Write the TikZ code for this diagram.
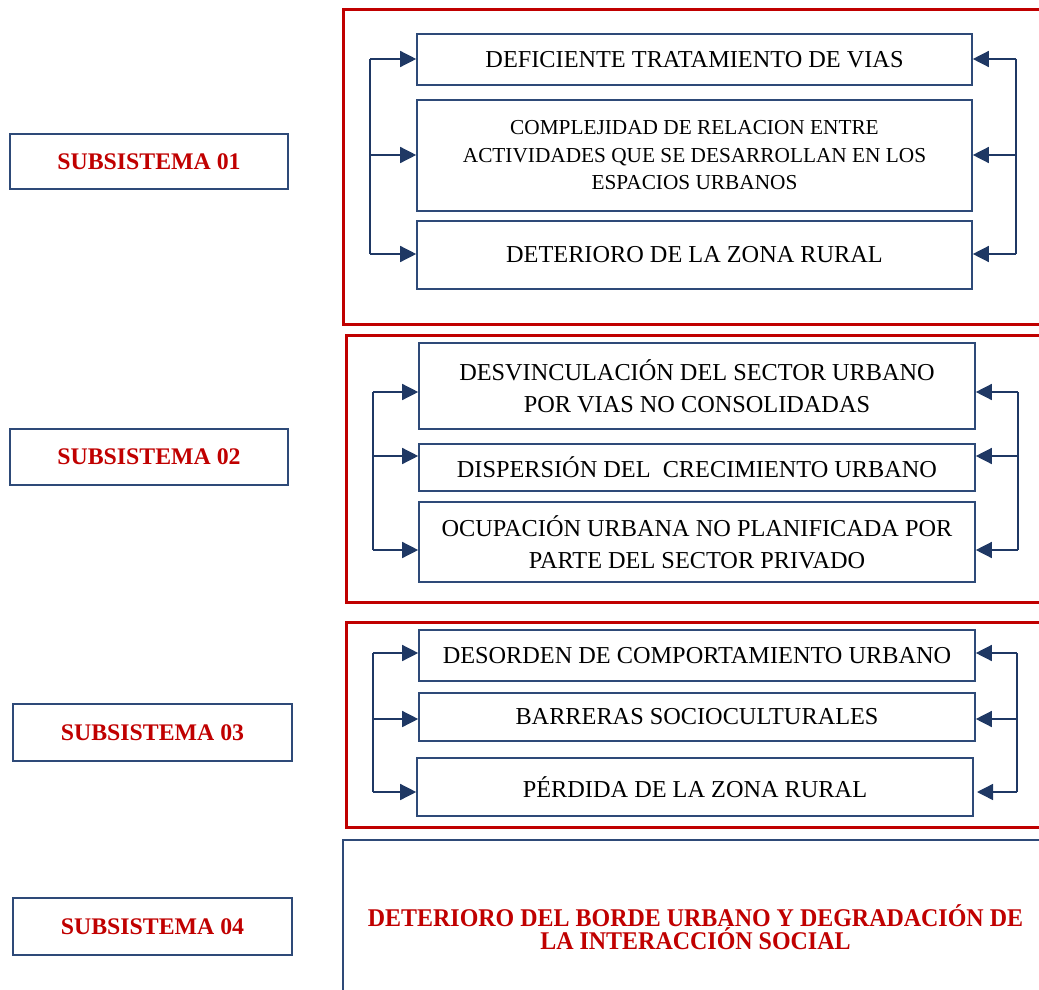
\documentclass[tikz,border=0pt]{standalone}
\usepackage{fontspec}
\setmainfont{Liberation Serif}
\newfontfamily\condfont[FakeStretch=0.94]{Liberation Serif Bold}
\usetikzlibrary{arrows.meta}
\definecolor{redf}{HTML}{C00000}
\definecolor{navy}{HTML}{2E4A78}
\definecolor{arrc}{HTML}{1F3864}
\begin{document}
\begin{tikzpicture}[x=1pt,y=-1pt,
  redframe/.style={draw=redf,line width=3pt},
  blueframe/.style={draw=navy,line width=2.4pt},
  itembox/.style={draw=navy,line width=1.6pt,inner sep=0pt,align=center,font=\fontsize{24.3}{32}\selectfont},
  smallbox/.style={itembox,font=\fontsize{21.3}{27.5}\selectfont},
  subbox/.style={draw=navy,line width=1.6pt,inner sep=0pt,text=redf,font=\fontsize{23.8}{26}\selectfont\bfseries},
  brk/.style={draw=arrc,line width=1.4pt},
  arr/.style={brk,-{Triangle[length=16pt,width=16pt]}}
]
\useasboundingbox (0,0) rectangle (1039,990);
\clip (0,0) rectangle (1039,990);

% frames
\draw[redframe] (343,10) rectangle (1060,324);
\draw[redframe] (346,335) rectangle (1060,602);
\draw[redframe] (346,622) rectangle (1060,827);
\draw[blueframe] (343,840) rectangle (1060,1010);

% subsystem boxes
\node[subbox,minimum width=278,minimum height=55] (s1) at (149,161.5) {SUBSISTEMA 01};
\node[subbox,minimum width=278,minimum height=56] (s2) at (149,457) {SUBSISTEMA 02};
\node[subbox,minimum width=279,minimum height=57] (s3) at (152.5,732.5) {SUBSISTEMA 03};
\node[subbox,minimum width=279,minimum height=57] (s4) at (152.5,926.5) {SUBSISTEMA 04};

% group 1
\node[itembox,minimum width=555,minimum height=51] (a1) at (694.5,59.5) {DEFICIENTE TRATAMIENTO DE VIAS};
\node[smallbox,minimum width=555,minimum height=111] (a2) at (694.5,155.5) {COMPLEJIDAD DE RELACION ENTRE\\ACTIVIDADES QUE SE DESARROLLAN EN LOS\\ESPACIOS URBANOS};
\node[itembox,minimum width=555,minimum height=68] (a3) at (694.5,255) {DETERIORO DE LA ZONA RURAL};

% group 2
\node[itembox,minimum width=556,minimum height=86] (b1) at (697,386) {DESVINCULACIÓN DEL SECTOR URBANO\\POR VIAS NO CONSOLIDADAS};
\node[itembox,minimum width=556,minimum height=47] (b2) at (697,467.5) {DISPERSIÓN DEL\ \ CRECIMIENTO URBANO};
\node[itembox,minimum width=556,minimum height=80] (b3) at (697,542) {OCUPACIÓN URBANA NO PLANIFICADA POR\\PARTE DEL SECTOR PRIVADO};

% group 3
\node[itembox,minimum width=556,minimum height=51] (c1) at (697,655.5) {DESORDEN DE COMPORTAMIENTO URBANO};
\node[itembox,minimum width=556,minimum height=48] (c2) at (697,717) {BARRERAS SOCIOCULTURALES};
\node[itembox,minimum width=556,minimum height=58] (c3) at (695,787) {PÉRDIDA DE LA ZONA RURAL};

% group 4 text
\node[text=redf,align=center,inner sep=0pt,font=\fontsize{25.5}{21.5}\condfont] (d) at (695.5,927) {DETERIORO DEL BORDE URBANO Y DEGRADACIÓN DE\\LA INTERACCIÓN SOCIAL};

% bracket coordinates group 1
\coordinate (la1) at (370,59);
\coordinate (la2) at (370,155);
\coordinate (la3) at (370,254);
\coordinate (ra1) at (1016,59);
\coordinate (ra2) at (1016,155);
\coordinate (ra3) at (1016,254);
\draw[brk] (la1) -- (la3);
\draw[brk] (ra1) -- (ra3);
\draw[arr] (la1) -- (la1 -| a1.west);
\draw[arr] (la2) -- (la2 -| a2.west);
\draw[arr] (la3) -- (la3 -| a3.west);
\draw[arr] (ra1) -- (ra1 -| a1.east);
\draw[arr] (ra2) -- (ra2 -| a2.east);
\draw[arr] (ra3) -- (ra3 -| a3.east);

% group 2
\coordinate (lb1) at (373,392);
\coordinate (lb2) at (373,456);
\coordinate (lb3) at (373,550);
\coordinate (rb1) at (1018,392);
\coordinate (rb2) at (1018,456);
\coordinate (rb3) at (1018,550);
\draw[brk] (lb1) -- (lb3);
\draw[brk] (rb1) -- (rb3);
\draw[arr] (lb1) -- (lb1 -| b1.west);
\draw[arr] (lb2) -- (lb2 -| b2.west);
\draw[arr] (lb3) -- (lb3 -| b3.west);
\draw[arr] (rb1) -- (rb1 -| b1.east);
\draw[arr] (rb2) -- (rb2 -| b2.east);
\draw[arr] (rb3) -- (rb3 -| b3.east);

% group 3
\coordinate (lc1) at (373,653);
\coordinate (lc2) at (373,719);
\coordinate (lc3) at (373,792);
\coordinate (rc1) at (1017,653);
\coordinate (rc2) at (1017,719);
\coordinate (rc3) at (1017,792);
\coordinate (tc3) at (977,792);
\draw[brk] (lc1) -- (lc3);
\draw[brk] (rc1) -- (rc3);
\draw[arr] (lc1) -- (lc1 -| c1.west);
\draw[arr] (lc2) -- (lc2 -| c2.west);
\draw[arr] (lc3) -- (lc3 -| c3.west);
\draw[arr] (rc1) -- (rc1 -| c1.east);
\draw[arr] (rc2) -- (rc2 -| c2.east);
\draw[arr] (rc3) -- (tc3);
\end{tikzpicture}
\end{document}
